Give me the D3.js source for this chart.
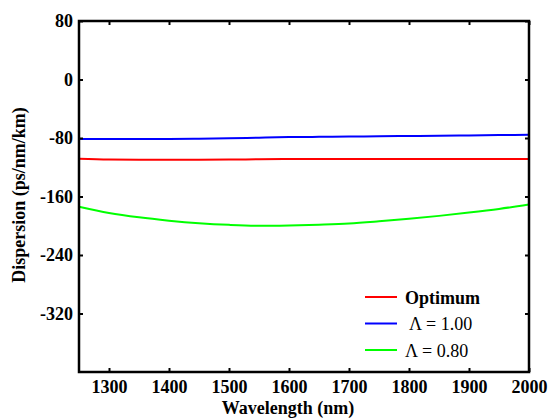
<!DOCTYPE html>
<html>
<head>
<meta charset="utf-8">
<script src="https://cdn.jsdelivr.net/npm/d3@7"></script>
<style>
  body { margin: 0; background: #fff; }
  svg text { font-family: "Liberation Serif", "Times New Roman", Times, "DejaVu Serif", serif; }
</style>
</head>
<body>
<svg id="chart" width="550" height="418"></svg>
<script>
// ── Data ─────────────────────────────────────────────────────────────────────

const wavelengths = [1250, 1300, 1350, 1400, 1450, 1500, 1550, 1600, 1650, 1700, 1750, 1800, 1850, 1900, 1950, 2000];
const optimum = [-108.3, -109.4, -109.6, -109.6, -109.6, -109.5, -109.0, -108.8, -108.7, -108.7, -108.7, -108.7, -108.7, -108.7, -108.7, -108.7];
const lambda100 = [-81.4, -81.4, -81.3, -81.3, -81.0, -80.5, -79.6, -78.8, -78.4, -78.1, -77.6, -77.3, -77.0, -76.5, -76.0, -75.5];
const lambda080 = [-174, -182.5, -188.5, -193, -196.5, -198.8, -200, -199.5, -198.5, -197, -194, -190.5, -186.5, -182, -177, -171];

const xTicks = [1300, 1400, 1500, 1600, 1700, 1800, 1900, 2000];
const yTicks = [80, 0, -80, -160, -240, -320];

const series = [
  { name: "Optimum", values: optimum, color: "#ff0000", bold: true },
  { name: "\u039B = 1.00", values: lambda100, color: "#0000ff", bold: false },
  { name: "\u039B = 0.80", values: lambda080, color: "#00ff00", bold: false },
];

// ── Layout ───────────────────────────────────────────────────────────────────

const FONT = "'Liberation Serif', 'Times New Roman', Times, 'DejaVu Serif', serif";
const FS = 18;
const margin = { left: 79, top: 21, right: 21, bottom: 46 };
const W = 550, H = 418;
const svg = d3.select("#chart");

const x = d3.scaleLinear().domain([1250, 2000]).range([margin.left, W - margin.right]);
const y = d3.scaleLinear().domain([-400, 80]).range([H - margin.bottom, margin.top]);

// ── Curves ───────────────────────────────────────────────────────────────────

const line = d3.line()
  .x((d) => x(d[0]))
  .y((d) => y(d[1]))
  .curve(d3.curveMonotoneX);

for (const s of series) {
  svg.append("path")
    .datum(wavelengths.map((w, i) => [w, s.values[i]]))
    .attr("fill", "none")
    .attr("stroke", s.color)
    .attr("stroke-width", 2)
    .attr("d", line);
}

// ── Axes (ticks inward, full frame) ──────────────────────────────────────────

const tickLen = 4;
const plain = (d) => String(d); // hyphen minus, like the original
const axisStyle = (g) => {
  g.attr("font-family", FONT);
  g.select(".domain").remove();
  g.selectAll(".tick line").attr("stroke", "#000").attr("stroke-width", 2);
  g.selectAll("text")
    .attr("font-weight", "bold")
    .attr("font-size", FS)
    .attr("fill", "#000");
};

svg.append("g")
  .attr("transform", `translate(0,${y(-400)})`)
  .call(d3.axisBottom(x).tickValues(xTicks).tickSize(-tickLen).tickPadding(8).tickFormat(plain))
  .call(axisStyle);

svg.append("g")
  .attr("transform", `translate(0,${y(80)})`)
  .call(d3.axisTop(x).tickValues(xTicks).tickSize(-tickLen).tickFormat(""))
  .call(axisStyle);

svg.append("g")
  .attr("transform", `translate(${x(1250)},0)`)
  .call(d3.axisLeft(y).tickValues(yTicks).tickSize(-tickLen).tickPadding(6).tickFormat(plain))
  .call(axisStyle);

svg.append("g")
  .attr("transform", `translate(${x(2000)},0)`)
  .call(d3.axisRight(y).tickValues(yTicks).tickSize(-tickLen).tickFormat(""))
  .call(axisStyle);

svg.append("rect")
  .attr("x", x(1250)).attr("y", y(80))
  .attr("width", x(2000) - x(1250)).attr("height", y(-400) - y(80))
  .attr("fill", "none").attr("stroke", "#000").attr("stroke-width", 2.5);

// ── Titles ───────────────────────────────────────────────────────────────────

svg.append("text")
  .attr("x", 288).attr("y", 414)
  .attr("text-anchor", "middle")
  .attr("font-family", FONT)
  .attr("font-weight", "bold").attr("font-size", FS)
  .text("Wavelength (nm)");

svg.append("text")
  .attr("transform", "translate(25,195) rotate(-90)")
  .attr("text-anchor", "middle")
  .attr("font-family", FONT)
  .attr("font-weight", "bold").attr("font-size", FS)
  .text("Dispersion (ps/nm/km)");

// ── Legend ───────────────────────────────────────────────────────────────────

const legend = svg.append("g").attr("transform", "translate(365,297)");
series.forEach((s, i) => {
  const row = legend.append("g").attr("transform", `translate(0,${i * 26.5})`);
  row.append("line")
    .attr("x1", 0).attr("x2", 32)
    .attr("stroke", s.color).attr("stroke-width", 2);
  row.append("text")
    .attr("x", s.bold ? 40 : (i === 1 ? 44 : 40)).attr("y", 6.5)
    .attr("font-family", FONT)
    .attr("font-weight", s.bold ? "bold" : "normal")
    .attr("font-size", FS)
    .text(s.name);
});
</script>
</body>
</html>
